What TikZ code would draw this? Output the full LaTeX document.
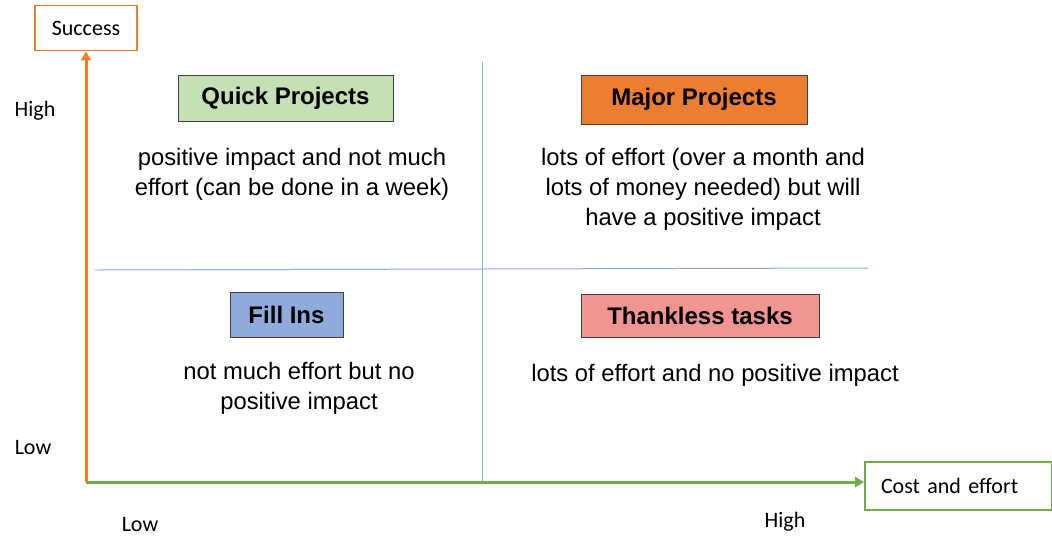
\documentclass[tikz,border=0pt]{standalone}
\usepackage{fontspec}
\setmainfont{Liberation Sans}
\newfontfamily\calib{Carlito}
\usetikzlibrary{arrows.meta}
\definecolor{axorange}{HTML}{ED7D31}
\definecolor{axgreen}{HTML}{70AD47}
\definecolor{divblue}{HTML}{8FAADC}
\definecolor{qgreen}{HTML}{C5E0B4}
\definecolor{morange}{HTML}{ED7D31}
\definecolor{fblue}{HTML}{8FAADC}
\definecolor{tred}{HTML}{F09591}
\tikzset{
  axisbox/.style={draw, line width=1.8pt, fill=white, inner sep=0pt, font=\calib\fontsize{22}{26}\selectfont},
  axlabel/.style={font=\calib\fontsize{22}{26}\selectfont, inner sep=0pt},
  header/.style={draw=black!75, line width=1pt, inner sep=0pt, font=\bfseries\fontsize{24}{28}\selectfont},
  body/.style={align=center, inner sep=0pt, font=\fontsize{23.8}{30}\selectfont},
  divider/.style={divblue, line width=1pt},
  axis/.style={line width=3pt, -{Triangle[length=9pt,width=10pt]}}
}
\begin{document}
\begin{tikzpicture}[x=1pt,y=-1pt]
\useasboundingbox (0,0) rectangle (1052,539);
% axis end boxes
\node[axisbox, draw=axorange, minimum width=102pt, minimum height=45pt] (succ) at (86,28) {Success};
\node[axisbox, draw=axgreen, minimum width=187pt, minimum height=48pt, text width=155pt, align=left] (cost) at (958.5,486) {Cost and effort};
% quadrant dividers
\coordinate (vtop) at (482,62);
\coordinate (vbot) at (482,482);
\coordinate (hl) at (95,270);
\coordinate (hr) at (868,268);
\draw[divider] (vtop) -- (vbot);
\draw[divider] (hl) -- (hr);
% axes
\coordinate (orig) at (86,482);
\draw[axis, axorange] (orig) -- (succ.south);
\draw[axis, axgreen] (orig) -- (orig -| cost.west);
% axis labels
\node[axlabel] (yhigh) at (35,111) {High};
\node[axlabel] (ylow) at (33,448) {Low};
\node[axlabel] (xlow) at (140,525) {Low};
\node[axlabel] (xhigh) at (785,522) {High};
% quadrant headers
\node[header, fill=qgreen, minimum width=215pt, minimum height=46pt] (quick) at (285.5,98) {Quick Projects};
\node[header, fill=morange, minimum width=226pt, minimum height=49pt] (major) at (694,99.5) {Major Projects};
\node[header, fill=fblue, minimum width=113pt, minimum height=45pt] (fill) at (286.5,314.5) {Fill Ins};
\node[header, fill=tred, minimum width=238pt, minimum height=43pt] (thank) at (700,315.5) {Thankless tasks};
% quadrant descriptions
\node[body, anchor=north] (quickd) at (292,148) {positive impact and not much\\effort (can be done in a week)};
\node[body, anchor=north] (majord) at (703,148) {lots of effort (over a month and\\lots of money needed) but will\\have a positive impact};
\node[body, anchor=north] (filld) at (299,362) {not much effort but no\\positive impact};
\node[body, anchor=north] (thankd) at (715,364) {lots of effort and no positive impact};
\end{tikzpicture}
\end{document}
